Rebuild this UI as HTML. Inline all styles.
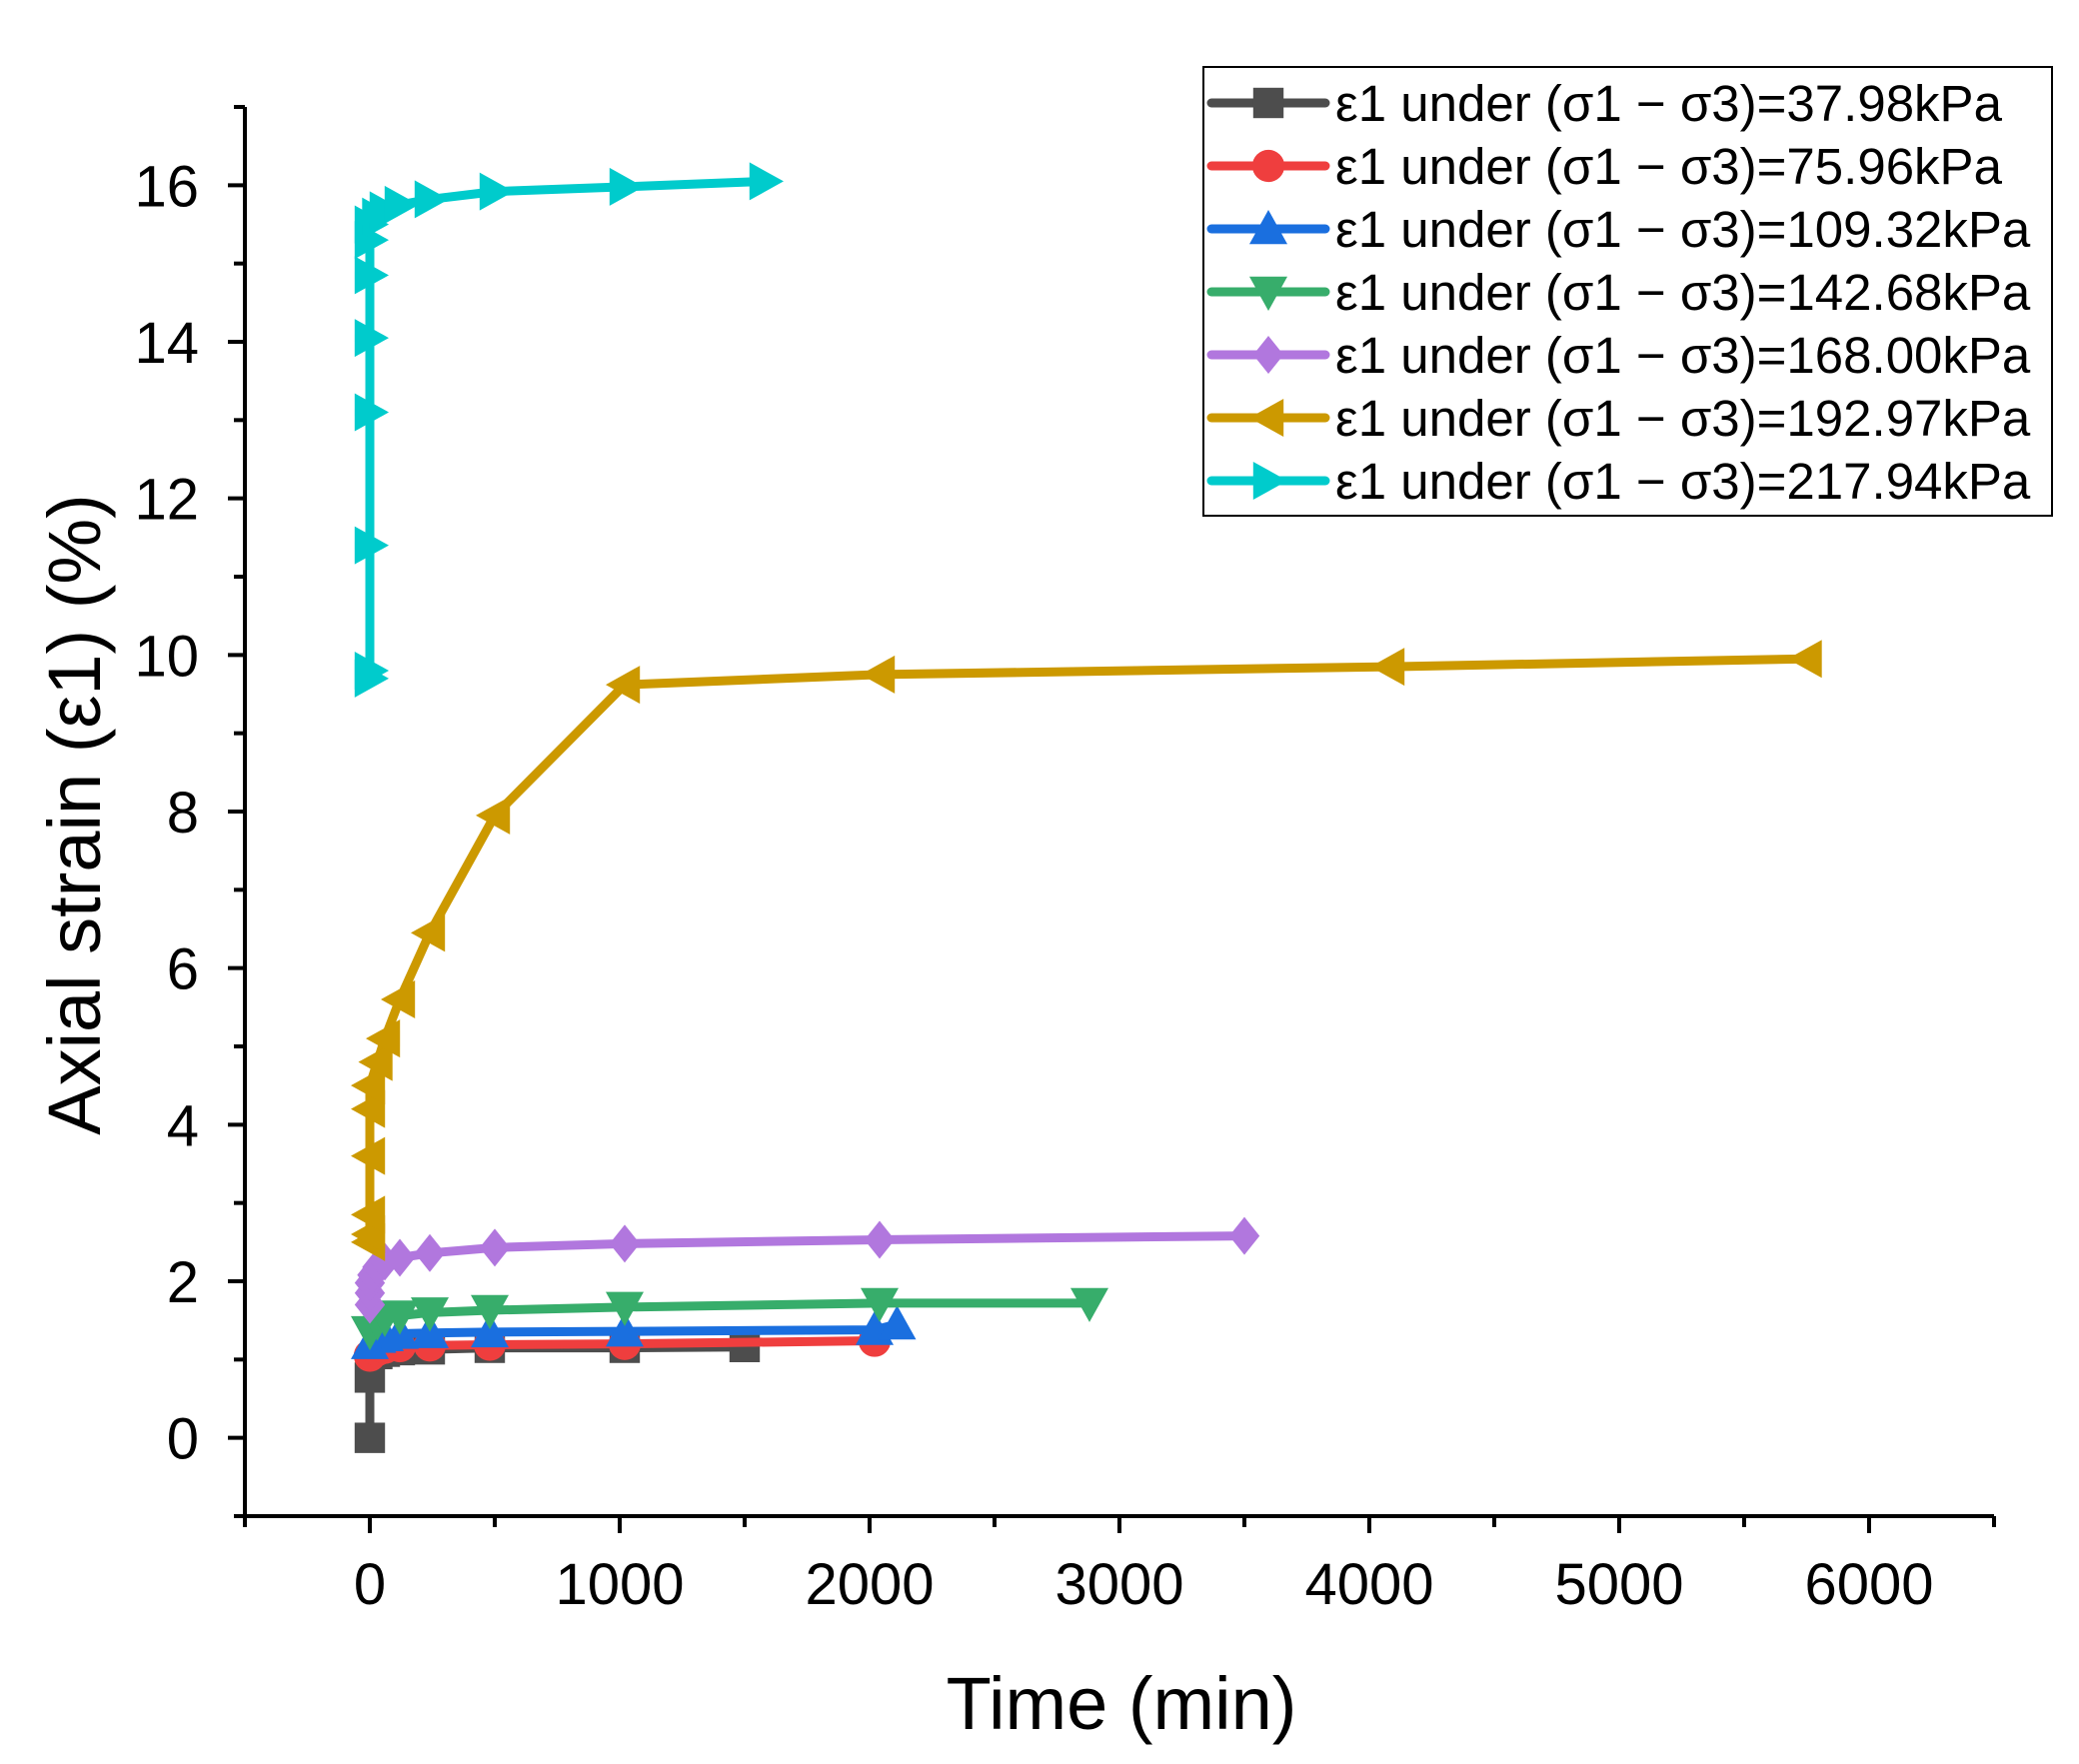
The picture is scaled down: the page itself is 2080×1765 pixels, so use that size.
<!DOCTYPE html>
<html><head><meta charset="utf-8">
<style>
html,body{margin:0;padding:0;background:#fff;}
svg{display:block;font-family:"Liberation Sans",Arial,sans-serif;}
</style></head>
<body>
<svg id="chart" width="2080" height="1765" viewBox="0 0 2080 1765" xmlns="http://www.w3.org/2000/svg">
<g id="axes"></g>
<g id="series"></g>
<g id="legend"></g>
<text x="1122" y="1730" font-size="74" text-anchor="middle" fill="#000">Time (min)</text>
<text x="0" y="0" font-size="74" text-anchor="middle" fill="#000" transform="translate(100,815) rotate(-90)">Axial strain (ε1) (%)</text>
</svg>
<script>
const xTicks = [0,1000,2000,3000,4000,5000,6000];
const yTicks = [0,2,4,6,8,10,12,14,16];
const seriesNames = ["ε1 under (σ1 − σ3)=37.98kPa","ε1 under (σ1 − σ3)=75.96kPa","ε1 under (σ1 − σ3)=109.32kPa","ε1 under (σ1 − σ3)=142.68kPa","ε1 under (σ1 − σ3)=168.00kPa","ε1 under (σ1 − σ3)=192.97kPa","ε1 under (σ1 − σ3)=217.94kPa"];
const t1 = [0,0,30,60,120,240,480,1020,1500];
const v1 = [0,0.77,1.07,1.1,1.12,1.13,1.15,1.15,1.16];
const t2 = [0,30,60,120,240,480,1020,2020];
const v2 = [1.05,1.12,1.15,1.17,1.18,1.19,1.2,1.24];
const t3 = [0,30,60,120,240,480,1020,2020,2110];
const v3 = [1.2,1.28,1.3,1.33,1.34,1.35,1.36,1.38,1.45];
const t4 = [0,30,60,120,240,480,1020,2040,2880];
const v4 = [1.36,1.48,1.53,1.56,1.6,1.63,1.67,1.72,1.72];
const t5 = [0,0,0,10,30,60,120,240,500,1020,2040,3500];
const v5 = [1.7,1.85,1.98,2.08,2.18,2.25,2.3,2.36,2.43,2.48,2.53,2.58];
const t6 = [0,0,0,0,0,0,30,60,120,240,500,1020,2040,4080,5750];
const v6 = [2.5,2.6,2.85,3.6,4.2,4.5,4.8,5.1,5.6,6.45,7.95,9.62,9.75,9.85,9.95];
const t7 = [0,0,0,0,0,0,0,0,30,60,120,240,500,1020,1580];
const v7 = [9.7,9.8,11.4,13.1,14.05,14.85,15.3,15.5,15.6,15.68,15.75,15.82,15.92,15.98,16.05];
const tData=[t1,t2,t3,t4,t5,t6,t7], vData=[v1,v2,v3,v4,v5,v6,v7];
const colors=["#4d4d4d","#ef3e3e","#1a6fdf","#37ad6b","#b177de","#cc9900","#00cbcc"];
const shapes=["square","circle","up","down","diamond","left","right"];

const X0=245,X1=1995,Y0=1517,Y1=107;
const xMin=-500,xMax=6500,yMin=-1,yMax=17;
const sx=v=>X0+(v-xMin)/(xMax-xMin)*(X1-X0);
const sy=v=>Y0-(v-yMin)/(yMax-yMin)*(Y0-Y1);
const NS="http://www.w3.org/2000/svg";
function mk(tag,attrs,parent){const e=document.createElementNS(NS,tag);for(const k in attrs)e.setAttribute(k,attrs[k]);parent.appendChild(e);return e;}
const axes=document.getElementById('axes');
let e;
e=mk('line',{x1:X0,y1:Y0,x2:X1,y2:Y0,stroke:'#000','stroke-width':4},axes);


e=mk('line',{x1:X0,y1:Y0+2,x2:X0,y2:Y1,stroke:'#000','stroke-width':4},axes);


for(let v=-500;v<=6500;v+=500){
  const major=(v%1000===0);
  e=mk('line',{x1:sx(v),y1:Y0,x2:sx(v),y2:Y0+(major?17:11),stroke:'#000','stroke-width':4},axes);
  
  
}
xTicks.forEach(v=>{
  e=mk('text',{x:sx(v),y:Y0+88,'font-size':58,'text-anchor':'middle',fill:'#000'},axes);
  e.textContent=v;
  
  
});
for(let v=-1;v<=17;v+=1){
  const major=(v%2===0);
  e=mk('line',{x1:X0,y1:sy(v),x2:X0-(major?17:11),y2:sy(v),stroke:'#000','stroke-width':4},axes);
  
  
}
yTicks.forEach(v=>{
  e=mk('text',{x:X0-46,y:sy(v)+21,'font-size':58,'text-anchor':'end',fill:'#000'},axes);
  e.textContent=v;
  
  
});
function marker(shape,x,y,c,s,parent){
  const h=s/2;let el;
  if(shape==='square')el=mk('rect',{x:x-h*0.8,y:y-h*0.8,width:s*0.8,height:s*0.8,fill:c},parent);
  else if(shape==='circle')el=mk('circle',{cx:x,cy:y,r:h*0.85,fill:c},parent);
  else{let p;
    if(shape==='up')p=[[x,y-h],[x+h,y+h*0.8],[x-h,y+h*0.8]];
    if(shape==='down')p=[[x,y+h],[x+h,y-h*0.8],[x-h,y-h*0.8]];
    if(shape==='left')p=[[x-h,y],[x+h*0.8,y-h],[x+h*0.8,y+h]];
    if(shape==='right')p=[[x+h,y],[x-h*0.8,y-h],[x-h*0.8,y+h]];
    if(shape==='diamond')p=[[x,y-h],[x+h*0.8,y],[x,y+h],[x-h*0.8,y]];
    el=mk('polygon',{points:p.map(q=>q.join(',')).join(' '),fill:c},parent);}
  return el;
}
const sg=document.getElementById('series');
tData.forEach((ts,i)=>{
  const g=mk('g',{},sg);
  
  
  const pts=ts.map((t,j)=>sx(t)+','+sy(vData[i][j])).join(' ');
  const pl=mk('polyline',{points:pts,fill:'none',stroke:colors[i],'stroke-width':9,'stroke-linejoin':'round','stroke-linecap':'round'},g);
  
  
  ts.forEach((t,j)=>{
    const m=marker(shapes[i],sx(t),sy(vData[i][j]),colors[i],38,g);
    
    
  });
});
const lg=document.getElementById('legend');
e=mk('rect',{x:1204,y:67,width:849,height:449,fill:'#fff',stroke:'#000','stroke-width':2},lg);


seriesNames.forEach((n,i)=>{
  const y=103+i*63;
  const g=mk('g',{},lg);
  
  
  mk('line',{x1:1212,y1:y,x2:1326,y2:y,stroke:colors[i],'stroke-width':9,'stroke-linecap':'round'},g);
  marker(shapes[i],1269,y,colors[i],38,g);
  const tx=mk('text',{x:1336,y:y+18,'font-size':51,fill:'#000'},g);
  tx.textContent=n;
  
  
});
</script>
</body></html>
